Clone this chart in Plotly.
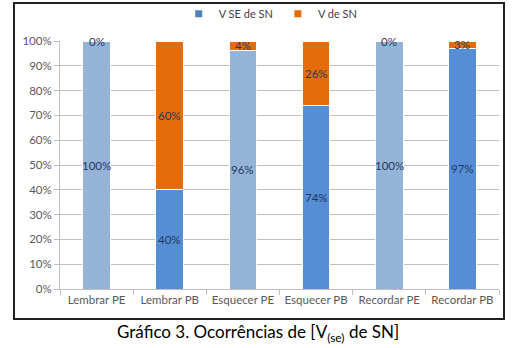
import plotly.graph_objects as go

categories = ["Lembrar PE", "Lembrar PB", "Esquecer PE", "Esquecer PB", "Recordar PE", "Recordar PB"]
v_se_de_sn = [100, 40, 96, 74, 100, 97]
v_de_sn = [0, 60, 4, 26, 0, 3]
y_ticks = list(range(0, 101, 10))
y_tick_labels = [f"{v}%" for v in y_ticks]
blue_colors = ["#95B3D7", "#558ED5", "#95B3D7", "#558ED5", "#95B3D7", "#558ED5"]
legend_blue = "#4F81BD"
orange = "#E46C0A"
label_color = "#1F3A5F"
font_family = "Lato, 'Open Sans', sans-serif"

fig = go.Figure()
fig.add_trace(go.Bar(
    x=categories, y=v_se_de_sn, name="V SE de SN", showlegend=False,
    marker=dict(color=blue_colors, line=dict(color="white", width=1)),
    hoverinfo="skip",
))
fig.add_trace(go.Bar(
    x=categories, y=v_de_sn, name="V de SN", showlegend=False,
    marker=dict(color=orange, line=dict(color="white", width=1)),
    hoverinfo="skip",
))
# legend entries with small square symbols
fig.add_trace(go.Scatter(x=[None], y=[None], mode="markers", name="V SE de SN",
                         marker=dict(symbol="square", size=7, color=legend_blue)))
fig.add_trace(go.Scatter(x=[None], y=[None], mode="markers", name="V de SN",
                         marker=dict(symbol="square", size=7, color=orange)))

annotations = []
for c, a, b in zip(categories, v_se_de_sn, v_de_sn):
    annotations.append(dict(x=c, y=a / 2, xref="x", yref="y", text=f"{a}%", showarrow=False,
                            font=dict(size=11.5, color=label_color, family=font_family)))
    annotations.append(dict(x=c, y=a + b / 2, xref="x", yref="y", text=f"{b}%", showarrow=False,
                            font=dict(size=11.5, color=label_color, family=font_family)))

annotations.append(dict(
    x=0.45, y=-0.178, xref="paper", yref="paper",
    text="Gráfico 3. Ocorrências de [V<sub>(se)</sub> de SN]", showarrow=False,
    font=dict(size=17, color="#000000", family=font_family), xanchor="center", yanchor="middle",
))

fig.add_shape(type="rect", xref="paper", yref="paper",
              x0=-0.1048, x1=1.0114, y0=-0.121, y1=1.153,
              line=dict(color="#222222", width=2), fillcolor="rgba(0,0,0,0)", layer="above")

fig.update_layout(
    barmode="stack",
    bargap=0.62,
    width=514, height=348,
    margin=dict(l=60, r=15, t=41, b=59, autoexpand=False),
    paper_bgcolor="white", plot_bgcolor="white",
    font=dict(family=font_family, size=11, color="#595959"),
    showlegend=True,
    legend=dict(orientation="h", x=0.48, y=1.11, xanchor="center", yanchor="middle",
                font=dict(size=11, color="#404040"), traceorder="normal",
                itemwidth=30, bgcolor="rgba(0,0,0,0)"),
    annotations=annotations,
    xaxis=dict(showgrid=False, showline=True, linecolor="#BFBFBF", linewidth=1,
               ticks="outside", tickson="boundaries", ticklen=5, tickcolor="#BFBFBF",
               tickfont=dict(size=11.5, color="#595959")),
    yaxis=dict(range=[0, 100], tickvals=y_ticks, ticktext=y_tick_labels,
               showgrid=True, gridcolor="#BFBFBF", gridwidth=1,
               showline=True, linecolor="#BFBFBF", linewidth=1,
               ticks="outside", ticklen=5, tickcolor="#BFBFBF", zeroline=False,
               tickfont=dict(size=11.5, color="#595959")),
)

fig.write_html("out.html")
